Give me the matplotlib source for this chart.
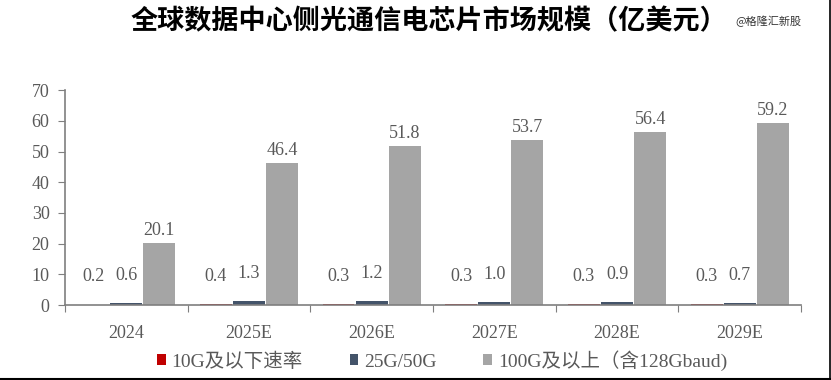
import matplotlib
matplotlib.use("Agg")
import matplotlib.pyplot as plt
import numpy as np
from matplotlib.lines import Line2D

categories = ["2024", "2025E", "2026E", "2027E", "2028E", "2029E"]
series_names = ["10G及以下速率", "25G/50G", "100G及以上（含128Gbaud)"]
s_10g = [0.2, 0.4, 0.3, 0.3, 0.3, 0.3]
s_25g = [0.6, 1.3, 1.2, 1.0, 0.9, 0.7]
s_100g = [20.1, 46.4, 51.8, 53.7, 56.4, 59.2]
colors = ["#C00000", "#44546A", "#A5A5A5"]
yticks = [0, 10, 20, 30, 40, 50, 60, 70]

serif = ["Liberation Serif", "Noto Sans CJK SC"]
txt_color = "#595959"

fig = plt.figure(figsize=(8.31, 3.8), dpi=100)
ax = fig.add_axes([0.078, 0.197, 0.886, 0.566])

x = np.arange(len(categories))
w = 0.26
step = 0.27
data = [s_10g, s_25g, s_100g]
label_off = [20, 20, 9]
for i, (vals, c, name) in enumerate(zip(data, colors, series_names)):
    pos = x + (i - 1) * step
    ax.bar(pos, vals, width=w, color=c, label=name, zorder=2)
    for px, v in zip(pos, vals):
        ax.annotate(f"{v:.1f}", (px, v), xytext=(0, label_off[i]), textcoords="offset points",
                    ha="center", va="center", fontsize=13, family=serif, color=txt_color)

ax.set_xlim(-0.5, len(categories) - 0.5)
ax.set_ylim(0, 70)
ax.set_yticks(yticks)
ax.set_yticklabels([str(t) for t in yticks], fontsize=13, family=serif, color=txt_color)
ax.set_xticks(np.arange(-0.5, len(categories), 1.0))
ax.set_xticklabels([])
ax.set_xticks(x, minor=True)
ax.set_xticklabels(categories, minor=True, fontsize=13, family=serif, color=txt_color)
ax.tick_params(axis="x", which="minor", length=0, pad=14)
ax.tick_params(axis="x", which="major", length=5, color="#7F7F7F", direction="out")
ax.tick_params(axis="y", length=5, color="#7F7F7F", direction="out", pad=6)
for s in ["top", "right"]:
    ax.spines[s].set_visible(False)
for s in ["left", "bottom"]:
    ax.spines[s].set_color("#7F7F7F")
    ax.spines[s].set_linewidth(1.2)

leg = fig.legend(loc="center", bbox_to_anchor=(0.532, 0.052), ncol=3, frameon=False,
                 prop={"family": serif, "size": 14}, handlelength=0.45, handleheight=0.45,
                 handletextpad=0.3, columnspacing=2.4)
for t in leg.get_texts():
    t.set_color(txt_color)

fig.text(0.516, 0.945, "全球数据中心侧光通信电芯片市场规模（亿美元）", ha="center", va="center",
         fontsize=19.5, fontweight="bold", family=["Noto Sans CJK SC", "DejaVu Sans"])
fig.text(0.925, 0.945, "@格隆汇新股", ha="center", va="center", fontsize=8,
         family=["Noto Sans CJK SC", "DejaVu Sans"], color="#333333")

fig.add_artist(Line2D([0, 1], [0.003, 0.003], color="black", lw=1.5, transform=fig.transFigure))
fig.add_artist(Line2D([0.9985, 0.9985], [0, 1], color="black", lw=1.2, transform=fig.transFigure))

fig.savefig("out.png", dpi=100)
